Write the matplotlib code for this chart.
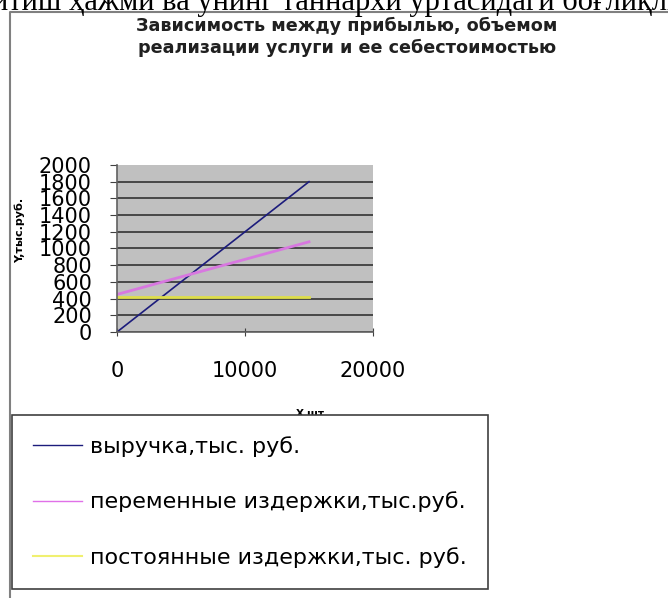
import numpy as np
import matplotlib
matplotlib.use("Agg")
import matplotlib.pyplot as plt
from matplotlib.lines import Line2D

# data
volume = [0, 5000, 10000, 15000]
revenue = [0, 600, 1200, 1800]
variable_costs = [450, 660, 870, 1080]
fixed_costs = [415, 415, 415, 415]

series_labels = ["выручка,тыс. руб.",
                 "переменные издержки,тыс.руб.",
                 "постоянные издержки,тыс. руб."]
title = "Зависимость между прибылью, объемом\nреализации услуги и ее себестоимостью"
doc_text = "итиш ҳажми ва унинг таннархи ўртасидаги боғлиқлиги"

W, H = 668, 598
fig = plt.figure(figsize=(W / 100, H / 100), dpi=100)

# piece of the document text cut at the top
fig.text(-8 / W, 1 - 10 / H, doc_text, family=["Liberation Serif", "DejaVu Serif"],
         fontsize=22, va="baseline", ha="left")

# chart frame (left and top edges)
fig.add_artist(Line2D([10 / W, 10 / W, 1], [0, 1 - 12 / H, 1 - 12 / H],
                      transform=fig.transFigure, color="#808080", lw=1.5))

fig.text(347 / W, 1 - 37 / H, title, ha="center", va="center", fontsize=12.7,
         fontweight="bold", color="#202020", linespacing=1.25)

ax = fig.add_axes([117 / W, 1 - 332 / H, (373 - 117) / W, (332 - 165) / H])
ax.set_facecolor("#c0c0c0")
ax.plot(volume, revenue, color="#1c1c7c", lw=1.2, label=series_labels[0])
ax.plot(volume, variable_costs, color="#d878e0", lw=2.0, label=series_labels[1])
ax.plot(volume, fixed_costs, color="#dede4a", lw=2.0, label=series_labels[2])

ax.set_xlim(0, 20000)
ax.set_ylim(0, 2000)
ax.set_xticks([0, 10000, 20000])
ax.set_yticks(np.arange(0, 2001, 200))
ax.grid(axis="y", color="#333333", lw=1.2)
ax.set_axisbelow(True)
ax.get_ygridlines()[-1].set_visible(False)
for s in ["top", "right"]:
    ax.spines[s].set_visible(False)
for s in ["left", "bottom"]:
    ax.spines[s].set_color("#606060")
    ax.spines[s].set_linewidth(1.2)
ax.tick_params(axis="y", direction="out", length=5, pad=13, labelsize=15, color="#404040")
ax.tick_params(axis="x", direction="inout", length=6, pad=18, labelsize=15, color="#404040")

fig.text(20 / W, 1 - 230 / H, "Y,тыс.руб.", rotation=90, ha="center", va="center",
         fontsize=8, fontweight="bold")
fig.text(312 / W, 1 - 414 / H, "X,шт.", ha="center", va="center",
         fontsize=7.5, fontweight="bold", zorder=1)

handles = [Line2D([], [], color="#1c1c7c", lw=1),
           Line2D([], [], color="#e070e8", lw=1),
           Line2D([], [], color="#f0f070", lw=1.5)]
leg = fig.legend(handles, series_labels, loc="upper left",
                 bbox_to_anchor=(12 / W, 4 / H, 476 / W, 179 / H), mode="expand",
                 fontsize=16, frameon=True, fancybox=False, edgecolor="#404040",
                 framealpha=1, borderpad=0.95, labelspacing=1.56, handlelength=2.2,
                 handletextpad=0.36, borderaxespad=0)
leg.set_zorder(5)
leg.get_frame().set_linewidth(1.2)

fig.savefig("out.png", dpi=100)
